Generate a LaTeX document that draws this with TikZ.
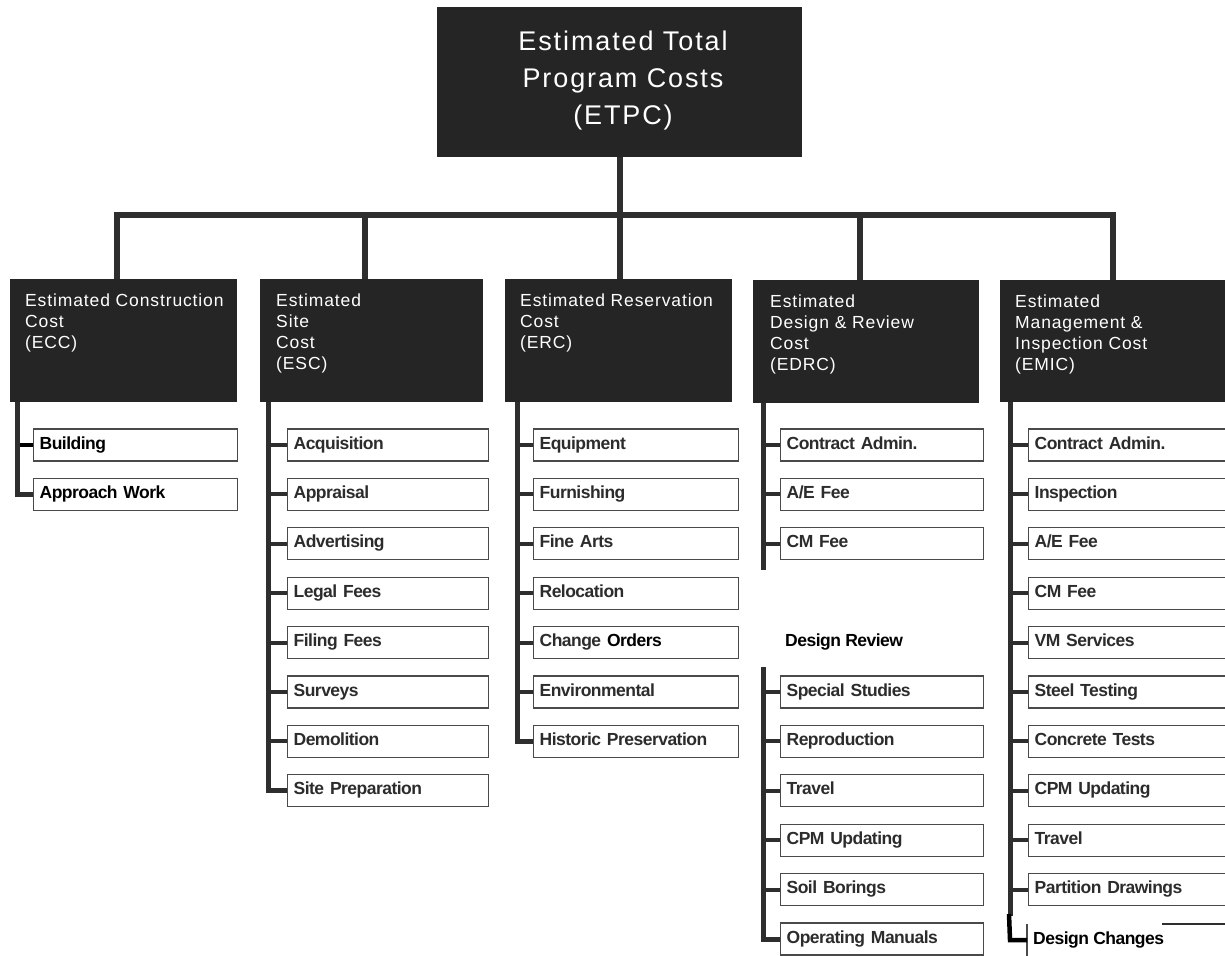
\documentclass[tikz,border=0pt]{standalone}
\usepackage{fontspec}
\setmainfont{Liberation Sans}
\newfontfamily\topfont[LetterSpace=7]{Liberation Sans}
\newfontfamily\headfont[LetterSpace=5]{Liberation Sans}
\newfontfamily\itemfont[LetterSpace=-3]{Liberation Sans}
\definecolor{boxfill}{HTML}{252525}
\definecolor{linedark}{HTML}{2E2E2E}
\definecolor{leafedge}{HTML}{4A4A4A}
\definecolor{leaftext}{HTML}{2C2C2C}
\begin{document}
\begin{tikzpicture}[x=1pt,y=-1pt,
  darkbox/.style={fill=boxfill,draw=none,inner sep=0pt,anchor=north west},
  headtext/.style={text=white,align=left,anchor=north west,inner sep=0pt,
    font=\headfont\fontsize{17.5}{21}\selectfont},
  leaf/.style={draw=leafedge,line width=1.3pt,fill=white,anchor=west,
    minimum height=32pt,inner xsep=6pt,inner ysep=0pt,align=left,
    text height=13pt,text depth=5pt,
    font=\itemfont\bfseries\fontsize{17.5}{20}\selectfont,text=leaftext},
  note/.style={anchor=west,inner sep=0pt,text=black,
    text height=13pt,text depth=5pt,
    font=\itemfont\bfseries\fontsize{17.5}{20}\selectfont},
  trunk/.style={draw=linedark,line width=6pt,line join=miter},
  spine/.style={draw=linedark,line width=5pt,line join=miter},
  tick/.style={draw=linedark,line width=4pt},
]
\useasboundingbox (0,0) rectangle (1225,955);

% ---------- top box ----------
\node[darkbox,minimum width=365pt,minimum height=150pt] (etpc) at (437,7) {};
\node[text=white,align=center,anchor=north,inner sep=0pt,
  font=\topfont\fontsize{27}{37}\selectfont] (etpctext) at (623,31)
  {Estimated Total\\Program Costs\\(ETPC)};

% ---------- second level boxes ----------
\node[darkbox,minimum width=227pt,minimum height=123pt] (ecc)  at (10,279)  {};
\node[darkbox,minimum width=223pt,minimum height=123pt] (esc)  at (260,279) {};
\node[darkbox,minimum width=227pt,minimum height=123pt] (erc)  at (505,279) {};
\node[darkbox,minimum width=226pt,minimum height=123pt] (edrc) at (753,280) {};
\node[darkbox,minimum width=230pt,minimum height=122pt] (emic) at (1000,280) {};

\node[headtext] (ecctext)  at (25,294)   {Estimated Construction\\Cost\\(ECC)};
\node[headtext] (esctext)  at (276,294)  {Estimated\\Site\\Cost\\(ESC)};
\node[headtext] (erctext)  at (520,294)  {Estimated Reservation\\Cost\\(ERC)};
\node[headtext] (edrctext) at (770,295)  {Estimated\\Design \& Review\\Cost\\(EDRC)};
\node[headtext] (emictext) at (1015,295) {Estimated\\Management \&\\Inspection Cost\\(EMIC)};

% ---------- trunk and branches ----------
\coordinate (hub) at (620,215);
\coordinate (eccstem)  at (117,215);
\coordinate (escstem)  at (365,215);
\coordinate (ercstem)  at (620,215);
\coordinate (edrcstem) at (860,215);
\coordinate (emicstem) at (1113,215);
\draw[trunk] (etpc.south -| hub) -- (hub);
\draw[trunk] (eccstem |- ecc.north) -- (eccstem) -- (emicstem) -- (emicstem |- emic.north);
\draw[trunk] (escstem) -- (escstem |- esc.north);
\draw[trunk] (ercstem) -- (ercstem |- erc.north);
\draw[trunk] (edrcstem) -- (edrcstem |- edrc.north);

% ---------- spine positions ----------
\coordinate (eccsp)  at (17,0);
\coordinate (escsp)  at (268,0);
\coordinate (ercsp)  at (517,0);
\coordinate (edrcsp) at (763,0);
\coordinate (emicsp) at (1010,0);

% ---------- ECC items ----------
\node[leaf,text width=192pt,text=black] (ecc1) at (33,445) {Building};
\node[leaf,text width=192pt,text=black] (ecc2) at (33,494.4) {Approach Work};
\draw[tick,draw=black] (ecc1.west -| eccsp) -- (ecc1.west);
\draw[spine] (ecc.south -| eccsp) -- (ecc2.west -| eccsp) -- (ecc2.west);

% ---------- ESC items ----------
\foreach \t [count=\i] in {Acquisition,Appraisal,Advertising,Legal Fees,
    Filing Fees,Surveys,Demolition,Site Preparation}
  \node[leaf,text width=189pt] (esc\i) at (287,{445+49.4*(\i-1)}) {\t};
\foreach \i in {1,...,7} \draw[tick] (esc\i.west -| escsp) -- (esc\i.west);
\draw[spine] (esc.south -| escsp) -- (esc8.west -| escsp) -- (esc8.west);

% ---------- ERC items ----------
\foreach \t [count=\i] in {Equipment,Furnishing,Fine Arts,Relocation,
    Change \textcolor{black}{Orders},Environmental,Historic Preservation}
  \node[leaf,text width=193pt] (erc\i) at (533,{445+49.4*(\i-1)}) {\t};
\foreach \i in {1,...,6} \draw[tick] (erc\i.west -| ercsp) -- (erc\i.west);
\draw[spine] (erc.south -| ercsp) -- (erc7.west -| ercsp) -- (erc7.west);

% ---------- EDRC items ----------
\foreach \t [count=\i] in {Contract Admin.,A/E Fee,CM Fee}
  \node[leaf,text width=191pt] (edrc\i) at (780,{445+49.4*(\i-1)}) {\t};
\foreach \t [count=\i from 6] in {Special Studies,Reproduction,Travel,
    CPM Updating,Soil Borings,Operating Manuals}
  \node[leaf,text width=191pt] (edrc\i) at (780,{445+49.4*(\i-1)}) {\t};
\node[note] (edrcnote) at (785,642) {Design Review};
\coordinate (edrcgapA) at (763,570);
\coordinate (edrcgapB) at (763,667);
\foreach \i in {1,2,3,6,7,8,9,10}
  \draw[tick] (edrc\i.west -| edrcsp) -- (edrc\i.west);
\draw[spine] (edrc.south -| edrcsp) -- (edrcgapA);
\draw[spine] (edrcgapB) -- (edrc11.west -| edrcsp) -- (edrc11.west);

% ---------- EMIC items ----------
\foreach \t [count=\i] in {Contract Admin.,Inspection,A/E Fee,CM Fee,
    VM Services,Steel Testing,Concrete Tests,CPM Updating,Travel,
    Partition Drawings}
  \node[leaf,text width=193pt] (emic\i) at (1028,{445+49.4*(\i-1)}) {\t};
\foreach \i in {1,...,10} \draw[tick] (emic\i.west -| emicsp) -- (emic\i.west);
\coordinate (emicend) at (1010,916);
\draw[spine] (emic.south -| emicsp) -- (emicend);

% last EMIC entry, partly covered
\node[note,inner xsep=6pt] (emic11) at (1027,940) {Design Changes};
\draw[draw=leafedge,line width=1.2pt] (1027,924) -- (1027,956);
\draw[draw=linedark,line width=2pt] (1162,924) -- (1226,924);
\draw[draw=black,line width=4.5pt,line join=miter] (1009,914) -- (emic11.west -| emicsp) -- (emic11.west);
\end{tikzpicture}
\end{document}
